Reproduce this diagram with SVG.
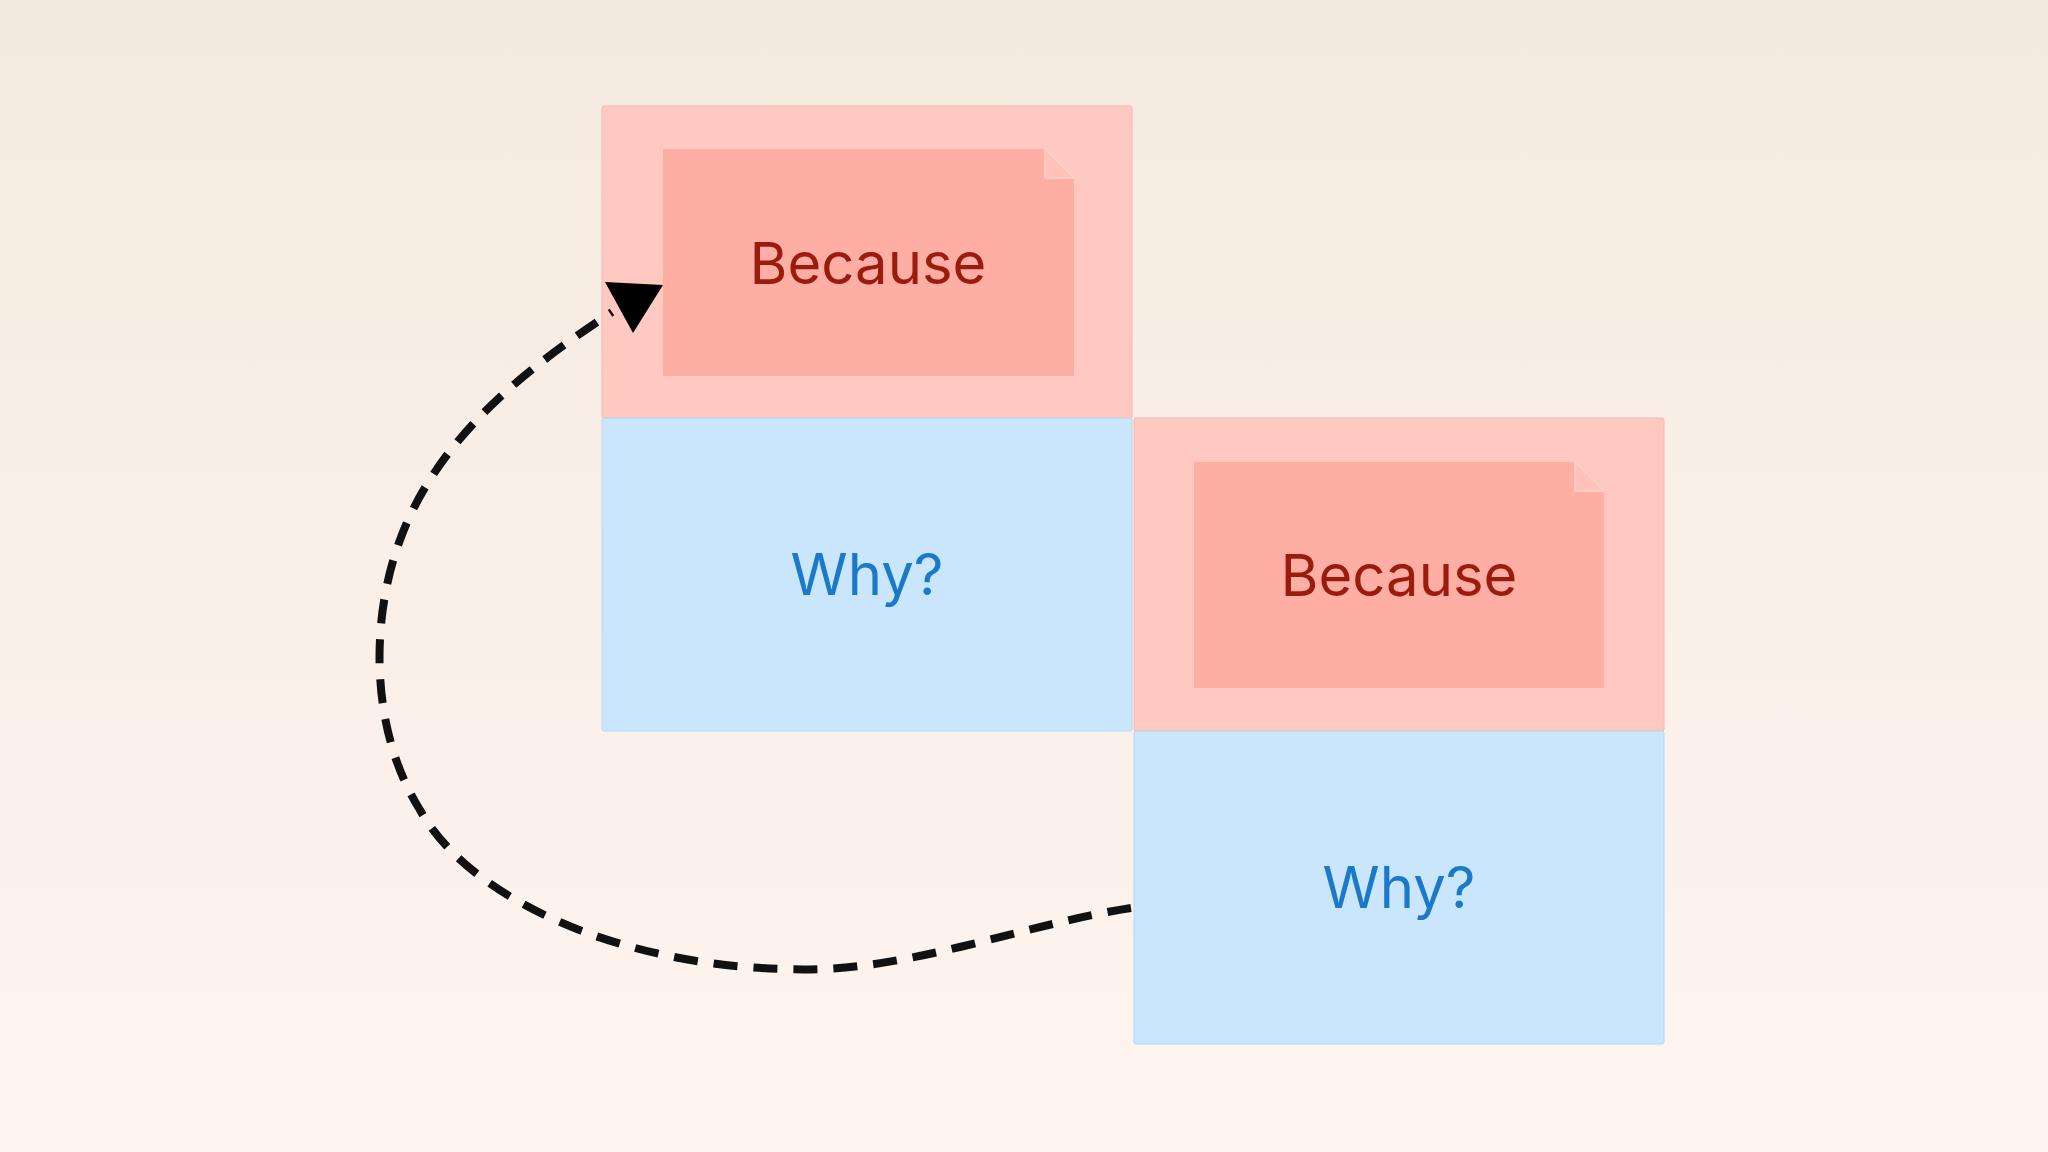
<svg xmlns="http://www.w3.org/2000/svg" width="2048" height="1152" viewBox="0 0 2048 1152">
<defs>
<linearGradient id="bg" x1="0" y1="0" x2="0" y2="1"><stop offset="0" stop-color="#f5eadf"/><stop offset="1" stop-color="#fef5f0"/></linearGradient>
<marker id="ah" viewBox="0 0 10 10" refX="9" refY="5" markerWidth="10" markerHeight="10" markerUnits="userSpaceOnUse" orient="auto"><path d="M0,0 L10,5 L0,10 z"/></marker>
<style>
.outer{fill:#ffc8c1;stroke:#f5b8b0;stroke-width:1}
.note{fill:#ffaea3}
.fold{fill:#ffc1b8;stroke:#ffd3cd;stroke-width:1.5}
.why{fill:#c9e6fd;stroke:#b8d8f0;stroke-width:1}
.bt{font-family:Inter,"Liberation Sans",sans-serif;font-size:58px;fill:#9b1c0f;text-anchor:middle}
.wt{font-family:Inter,"Liberation Sans",sans-serif;font-size:58px;fill:#1a79c9;text-anchor:middle}
</style>
</defs>
<rect width="2048" height="1152" fill="url(#bg)"/>
<g id="because1">
<rect class="outer" x="602" y="106" width="530" height="312" rx="2"/>
<path class="note" d="M663,149 H1045 L1074,178 V376 H663 Z"/>
<path class="fold" d="M1045,149 V178 H1074 Z"/>
<text class="bt" x="868" y="284">Because</text>
</g>
<g id="why1">
<rect class="why" x="602" y="418" width="530" height="313" rx="2"/>
<text class="wt" x="867" y="595">Why?</text>
</g>
<g id="because2">
<rect class="outer" x="1134" y="418" width="530" height="313" rx="2"/>
<path class="note" d="M1194,462 H1575 L1604,491 V688 H1194 Z"/>
<path class="fold" d="M1575,462 V491 H1604 Z"/>
<text class="bt" x="1399" y="596">Because</text>
</g>
<g id="why2">
<rect class="why" x="1134" y="731" width="530" height="313" rx="2"/>
<text class="wt" x="1399" y="908">Why?</text>
</g>
<g id="connectors">
<path d="M1131,908 C1020,925 900,975 784,969 C620,965 470,900 420,810 C370,730 370,620 400,540 C440,430 540,360 612,312" fill="none" stroke="#111" stroke-width="8" stroke-dasharray="24,16"/>
<path d="M605,282 L663,285 L633,333 Z" fill="#000"/>
</g>
</svg>
